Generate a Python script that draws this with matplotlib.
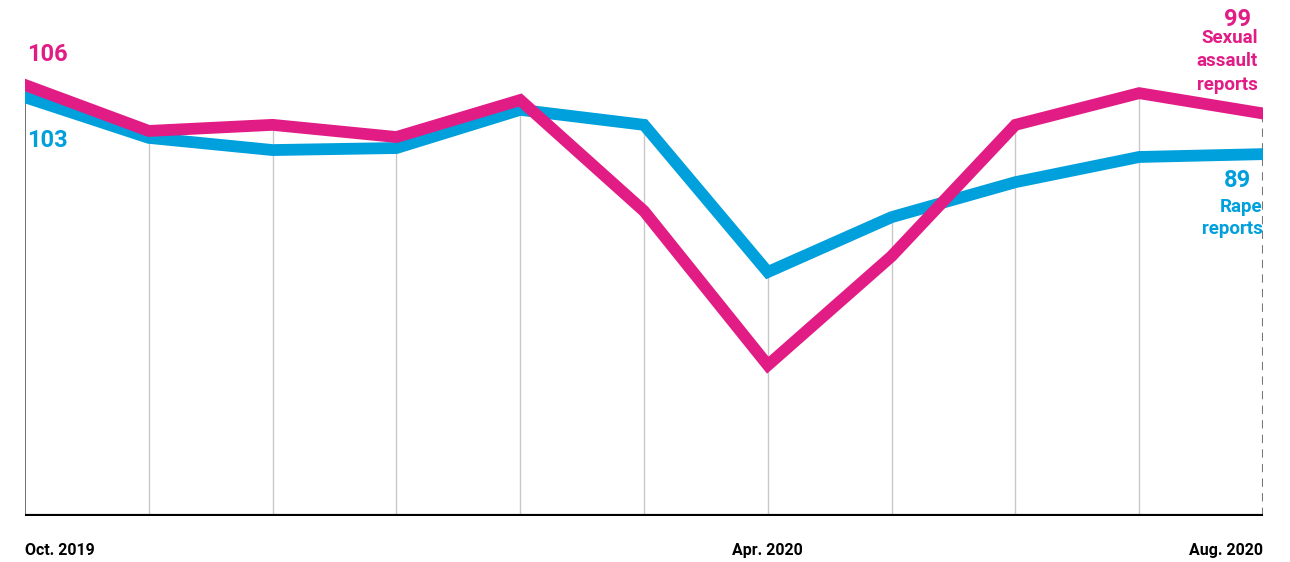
import matplotlib.pyplot as plt
import numpy as np

plt.rcParams['font.family'] = ['Roboto', 'DejaVu Sans']

# Monthly report index, Oct. 2019 to Aug. 2020
months = ['Oct. 2019', 'Nov. 2019', 'Dec. 2019', 'Jan. 2020', 'Feb. 2020', 'Mar. 2020',
          'Apr. 2020', 'May 2020', 'Jun. 2020', 'Jul. 2020', 'Aug. 2020']
sexual_assault = [106, 94.7, 96.2, 93.2, 102.3, 75.0, 37.1, 63.9, 96.2, 104.0, 99]
rape = [103, 93.0, 90.0, 90.5, 99.9, 96.2, 60.0, 73.5, 82.1, 88.3, 89]
shown_ticks = ['Oct. 2019', 'Apr. 2020', 'Aug. 2020']

pink = '#E21C85'
blue = '#00A0DC'

x = np.arange(len(months))
W, H = 1290, 562
fig = plt.figure(figsize=(W / 100, H / 100), dpi=100)
ax = fig.add_axes([25 / W, 46 / H, (1263 - 25) / W, 456 / H])
ax.set_xlim(0, len(months) - 1)
ax.set_ylim(0, 456 / 4.066)

# vertical guides up to the higher of the two lines
tops = np.maximum(sexual_assault, rape)
for i in x[1:-1]:
    ax.plot([i, i], [0, tops[i]], color='#c8c8c8', lw=1, zorder=1)
ax.plot([0, 0], [0, tops[0]], color='#666666', lw=1.3, zorder=1)
ax.plot([x[-1], x[-1]], [0, tops[-1]], color='#777777', lw=1.5, ls=(0, (4, 3)), zorder=1)
ax.axhline(0, color='black', lw=3, zorder=2)

ax.plot(x, rape, color=blue, lw=8.5, solid_joinstyle='miter', zorder=3)
ax.plot(x, sexual_assault, color=pink, lw=8.5, solid_joinstyle='miter', zorder=4)

for s in ax.spines.values():
    s.set_visible(False)
ax.set_xticks([])
ax.set_yticks([])

# start values
ax.text(0.02, 110.6, f'{sexual_assault[0]:.0f}', color=pink, fontsize=17, fontweight='bold',
        ha='left', va='bottom', clip_on=False)
ax.text(0.02, 95.2, f'{rape[0]:.0f}', color=blue, fontsize=17, fontweight='bold',
        ha='left', va='top')

# end values with series names
ax.text(x[-1] - 0.1, 122.0, f'{sexual_assault[-1]:.0f}', color=pink, fontsize=17,
        fontweight='bold', ha='right', va='center', clip_on=False)
ax.text(x[-1] - 0.04, 119.8, 'Sexual\nassault\nreports', color=pink, fontsize=13.5,
        fontweight='bold', ha='right', va='top', linespacing=1.38, clip_on=False)
ax.text(x[-1] - 0.1, 82.5, f'{rape[-1]:.0f}', color=blue, fontsize=17, fontweight='bold',
        ha='right', va='center')
ax.text(x[-1] - 0.005, 78.2, 'Rape\nreports', color=blue, fontsize=13.5, fontweight='bold',
        ha='right', va='top', linespacing=1.3)

# x labels
for lab in shown_ticks:
    i = months.index(lab)
    ha = 'left' if i == 0 else ('right' if i == len(months) - 1 else 'center')
    ax.text(i, -8.4, lab, fontsize=11.5, fontweight='bold', ha=ha, va='center',
            clip_on=False)

fig.savefig('out.png', dpi=100, facecolor='white')
